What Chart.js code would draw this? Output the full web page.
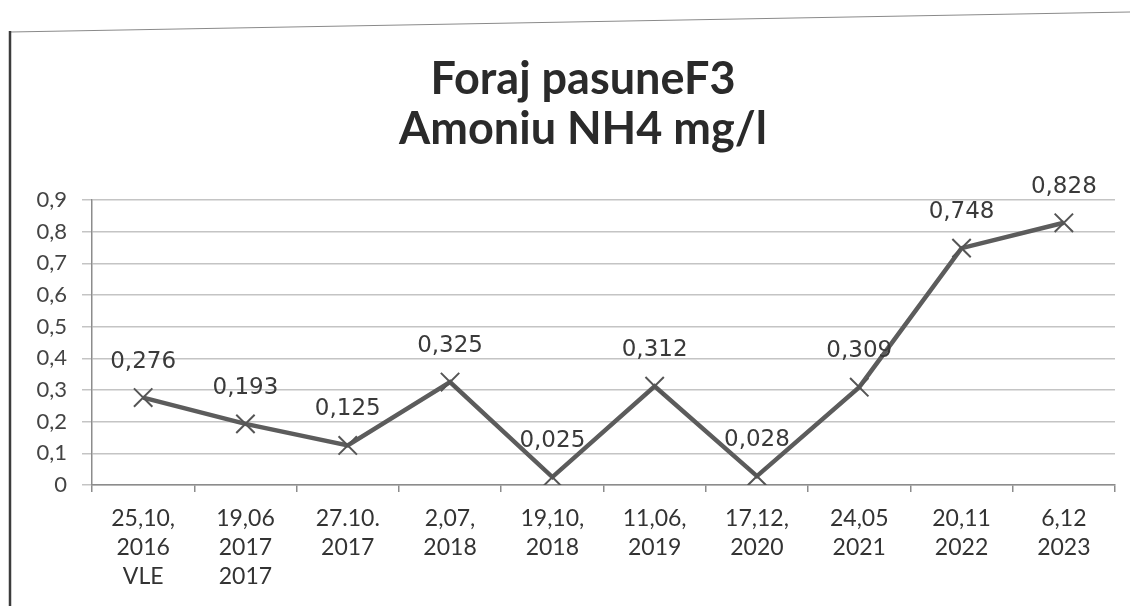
<!DOCTYPE html>
<html>
<head>
<meta charset="utf-8">
<script src="https://cdn.jsdelivr.net/npm/chart.js@4.4.1/dist/chart.umd.min.js"></script>
<style>
    html, body { margin: 0; padding: 0; background: #fff; }
    #box { position: relative; width: 1130px; height: 606px; }
</style>
</head>
<body>
<div id="box"><canvas id="myChart" width="1130" height="606"></canvas></div>
<script>
const dates = [
    ['25,10,', '2016', 'VLE'],
    ['19,06', '2017', '2017'],
    ['27.10.', '2017'],
    ['2,07,', '2018'],
    ['19,10,', '2018'],
    ['11,06,', '2019'],
    ['17,12,', '2020'],
    ['24,05', '2021'],
    ['20,11', '2022'],
    ['6,12', '2023']
];
const amoniu = [0.276, 0.193, 0.125, 0.325, 0.025, 0.312, 0.028, 0.309, 0.748, 0.828];
const titleLines = ['Foraj pasuneF3', 'Amoniu NH4 mg/l'];

const comma = (v) => String(v).replace('.', ',');

// value labels above each marker
const pointLabels = {
    id: 'pointLabels',
    afterDatasetsDraw(chart) {
        const c = chart.ctx;
        const meta = chart.getDatasetMeta(0);
        c.save();
        c.font = '23px "DejaVu Sans"';
        c.fillStyle = '#3a3a3a';
        c.textAlign = 'center';
        c.textBaseline = 'middle';
        meta.data.forEach((pt, i) => {
            c.fillText(comma(chart.data.datasets[0].data[i]), pt.x, pt.y - 36);
        });
        c.restore();
    }
};

// outer border and the two-line heading
const frame = {
    id: 'frame',
    beforeDraw(chart) {
        const c = chart.ctx;
        c.save();
        c.strokeStyle = '#8a8a8a';
        c.lineWidth = 1;
        c.beginPath();
        c.moveTo(10, 32);
        c.lineTo(1130, 12);
        c.stroke();
        c.strokeStyle = '#3c3c3c';
        c.lineWidth = 2.5;
        c.beginPath();
        c.moveTo(10, 31);
        c.lineTo(10, 606);
        c.stroke();

        c.font = 'bold 45px Lato';
        c.fillStyle = '#2a2a2a';
        c.textAlign = 'center';
        c.textBaseline = 'alphabetic';
        titleLines.forEach((t, i) => c.fillText(t, 583, 94 + i * 50));
        c.restore();
    }
};

const lineChart = new Chart(document.getElementById('myChart'), {
    type: 'line',
    data: {
        labels: dates,
        datasets: [{
            data: amoniu,
            borderColor: '#5c5c5c',
            borderWidth: 4.5,
            tension: 0,
            pointStyle: 'crossRot',
            pointRadius: 13,
            pointBorderWidth: 2,
            pointBorderColor: '#555555'
        }]
    },
    options: {
        responsive: false,
        animation: false,
        layout: { padding: { left: 12, right: 14, top: 200, bottom: 4 } },
        plugins: {
            legend: { display: false },
            tooltip: { enabled: false },
            title: { display: false }
        },
        scales: {
            y: {
                min: 0,
                max: 0.9,
                afterFit: (scale) => { scale.width = 80; },
                border: { color: '#8c8c8c', width: 1.5 },
                grid: { color: '#c4c4c4', lineWidth: 1.5, tickLength: 10 },
                ticks: {
                    stepSize: 0.1,
                    padding: 15,
                    color: '#444444',
                    font: { family: 'Lato', size: 22 },
                    callback: (v) => comma(Math.round(v * 10) / 10)
                }
            },
            x: {
                offset: true,
                afterFit: (scale) => { scale.height = 117; },
                border: { color: '#8c8c8c', width: 1.5 },
                grid: { offset: true, drawOnChartArea: false, tickLength: 7, color: '#8c8c8c', lineWidth: 1.5 },
                ticks: {
                    autoSkip: false,
                    maxRotation: 0,
                    padding: 12,
                    color: '#333333',
                    font: { family: 'Lato', size: 23, lineHeight: 1.27 }
                }
            }
        }
    },
    plugins: [frame, pointLabels]
});
</script>
</body>
</html>
